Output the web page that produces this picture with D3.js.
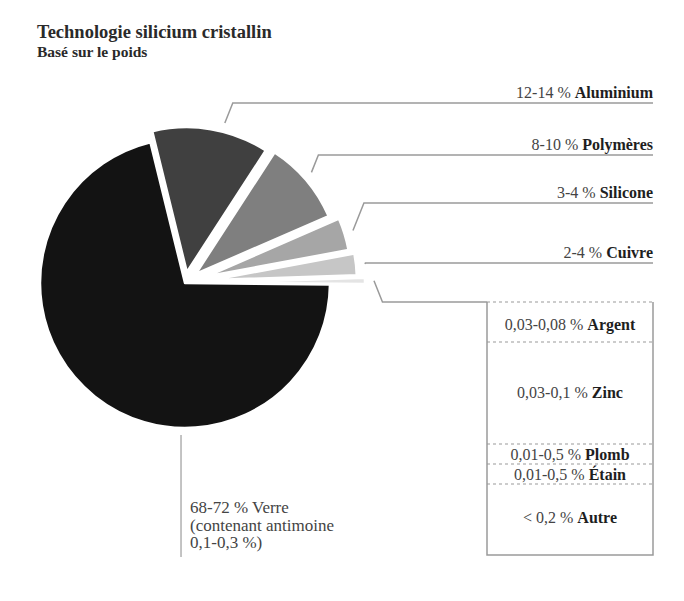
<!DOCTYPE html>
<html>
<head>
<meta charset="utf-8">
<script src="https://cdn.jsdelivr.net/npm/d3@7"></script>
<style>
  html, body { margin: 0; padding: 0; background: #fff; }
  svg { display: block; font-family: "Liberation Serif", "Times New Roman", serif; }
</style>
</head>
<body>
<svg id="chart" width="684" height="601"></svg>
<script>
// ---------- data ----------
const sliceNames   = ["Aluminium", "Polymères", "Silicone", "Cuivre", "Autres métaux", "Verre"];
const sliceValues  = [13, 9.3, 3.6, 2.4, 0.7, 71];
const sliceRanges  = ["12-14 %", "8-10 %", "3-4 %", "2-4 %", "", "68-72 %"];

const boxRanges = ["0,03-0,08 %", "0,03-0,1 %", "0,01-0,5 %", "0,01-0,5 %", "< 0,2 %"];
const boxMetals = ["Argent", "Zinc", "Plomb", "Étain", "Autre"];

const glassNote = ["68-72 % Verre", "(contenant antimoine", "0,1-0,3 %)"];

const titleText = "Technologie silicium cristallin";
const subtitleText = "Basé sur le poids";

// ---------- layout / style ----------
const svg = d3.select("#chart");
const cx = 185, cy = 283, R = 145;
const fills    = ["#404040", "#7f7f7f", "#a6a6a6", "#c6c6c6", "#e4e4e4", "#131313"];
const explode  = [11, 14, 22, 27, 35, 0];
const anchorFr = [0.6, 0.47, 0.47, 0.53, 0.5];
const anchorR  = 154;
const lineYs   = [103, 155, 203, 263, 302];
const rightX   = 653;
const deg = Math.PI / 180;

svg.append("text").attr("x", 37).attr("y", 38)
  .attr("font-size", 18.5).attr("font-weight", "bold").attr("fill", "#2a2a2a").text(titleText);
svg.append("text").attr("x", 37).attr("y", 57)
  .attr("font-size", 15.5).attr("font-weight", "bold").attr("fill", "#2a2a2a").text(subtitleText);

const pie = d3.pie().sort(null).value(d => d)
  .startAngle(-13.8 * deg).endAngle(346.2 * deg);
const arcs = pie(sliceValues);
const arc = d3.arc().innerRadius(0).outerRadius(R);

function offsetOf(i) {
  const a = arcs[i];
  const m = (a.startAngle + a.endAngle) / 2;
  return [explode[i] * Math.sin(m), -explode[i] * Math.cos(m)];
}

const g = svg.append("g").attr("transform", `translate(${cx},${cy})`);
const order = [5, 0, 1, 2, 3, 4];
g.selectAll("path.slice").data(order).join("path")
  .attr("class", "slice")
  .attr("d", i => arc(arcs[i]))
  .attr("transform", i => { const o = offsetOf(i); return `translate(${o[0]},${o[1]})`; })
  .attr("fill", i => fills[i])
  .attr("stroke", "#fff").attr("stroke-width", 2.5).attr("stroke-linejoin", "round");

// leader lines for the small slices
const leaderColor = "#9a9a9a";
for (let i = 0; i < 5; i++) {
  const a = arcs[i];
  const t = a.startAngle + anchorFr[i] * (a.endAngle - a.startAngle);
  const o = offsetOf(i);
  const sx = cx + o[0] + anchorR * Math.sin(t);
  const sy = cy + o[1] - anchorR * Math.cos(t);
  const ly = lineYs[i];
  const ex = sx + 0.4 * Math.abs(ly - sy);
  const endX = i < 4 ? rightX : 487;
  svg.append("polyline")
    .attr("points", `${sx},${sy} ${ex},${ly} ${endX},${ly}`)
    .attr("fill", "none").attr("stroke", leaderColor).attr("stroke-width", 1.5);
  if (i < 4) {
    const tx = svg.append("text").attr("x", rightX).attr("y", ly - 5)
      .attr("text-anchor", "end").attr("font-size", 16);
    tx.append("tspan").attr("fill", "#444").text(sliceRanges[i] + " ");
    tx.append("tspan").attr("fill", "#1e1e1e").attr("font-weight", "bold").text(sliceNames[i]);
  }
}

// box with small metals
const boxX0 = 487, boxX1 = 653, boxY0 = 302, boxY1 = 555;
const rowEdges = [302, 342, 444, 464, 484, 555];
const rowBase  = [330, 398, 460, 480, 523];
svg.append("polyline")
  .attr("points", `${boxX0},${boxY0} ${boxX0},${boxY1} ${boxX1},${boxY1} ${boxX1},${boxY0}`)
  .attr("fill", "none").attr("stroke", leaderColor).attr("stroke-width", 1.5);
svg.append("line").attr("x1", boxX0).attr("x2", boxX1).attr("y1", boxY0).attr("y2", boxY0)
  .attr("stroke", leaderColor).attr("stroke-width", 1.2).attr("stroke-dasharray", "3,3");
for (let k = 1; k < rowEdges.length - 1; k++) {
  svg.append("line").attr("x1", boxX0).attr("x2", boxX1)
    .attr("y1", rowEdges[k]).attr("y2", rowEdges[k])
    .attr("stroke", leaderColor).attr("stroke-width", 1.2).attr("stroke-dasharray", "3,3");
}
boxRanges.forEach((r, k) => {
  const tx = svg.append("text").attr("x", (boxX0 + boxX1) / 2).attr("y", rowBase[k])
    .attr("text-anchor", "middle").attr("font-size", 16);
  tx.append("tspan").attr("fill", "#444").text(r + " ");
  tx.append("tspan").attr("fill", "#1e1e1e").attr("font-weight", "bold").text(boxMetals[k]);
});

// glass label
const ga = 181.5 * deg;
const gx = cx + 152 * Math.sin(ga);
svg.append("line").attr("x1", gx).attr("x2", gx).attr("y1", cy - 152 * Math.cos(ga)).attr("y2", 557)
  .attr("stroke", "#b0b0b0").attr("stroke-width", 1.5);
glassNote.forEach((s, k) => {
  svg.append("text").attr("x", 190).attr("y", 513 + k * 17.5)
    .attr("font-size", 17).attr("fill", "#444").text(s);
});
</script>
</body>
</html>
